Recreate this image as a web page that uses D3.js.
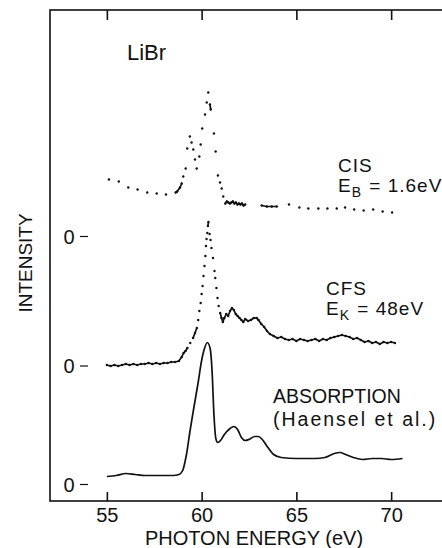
<!DOCTYPE html>
<meta charset="utf-8">
<style>
  body { margin: 0; background: #fff; }
  text { font-family: "Liberation Sans", Arial, sans-serif; fill: #111; }
</style>
<body>
<script src="https://d3js.org/d3.v7.min.js"></script>
<script>

// photon energy ticks (eV)
var xTicks = [55, 60, 65, 70];

// vertical offsets of the three spectra (zero levels, arbitrary units)
var offsets = [0, 118.5, 248];

// absorption (Haensel et al.) - solid line
var absE = [55.0, 55.5, 56.0, 56.5, 57.0, 57.5, 58.0, 58.5, 58.8, 59.0, 59.2, 59.4, 59.6, 59.8, 60.0, 60.15, 60.3, 60.45, 60.55, 60.65, 60.75, 60.85, 61.0, 61.2, 61.5, 61.7, 61.9, 62.1, 62.3, 62.5, 62.8, 63.0, 63.2, 63.5, 63.8, 64.2, 65.0, 65.5, 66.0, 66.5, 67.0, 67.3, 67.6, 68.0, 68.5, 69.0, 69.5, 70.0, 70.6];
var absI = [8, 9, 11, 10, 9, 9, 9, 9, 10, 14, 30, 55, 78, 100, 124, 136, 142, 136, 114, 70, 46, 42, 44, 50, 56, 58, 55, 47, 44, 45, 48, 48, 45, 37, 30, 27, 26, 26, 26, 27, 31, 32, 30, 27, 25, 26, 26, 25, 26];

// CFS, E_K = 48 eV - measured points
var cfsE = [55.0, 55.2, 55.4, 55.6, 55.8, 56.0, 56.2, 56.4, 56.6, 56.8, 57.0, 57.2, 57.4, 57.6, 57.8, 58.0, 58.2, 58.4, 58.6, 58.8, 58.95, 59.05, 59.15, 59.25, 59.4, 59.55, 59.65, 59.75, 59.82, 59.88, 59.95, 60.0, 60.05, 60.1, 60.15, 60.2, 60.23, 60.26, 60.3, 60.33, 60.36, 60.42, 60.47, 60.52, 60.6, 60.68, 60.72, 60.78, 60.84, 60.9, 60.98, 61.05, 61.12, 61.2, 61.3, 61.4, 61.5, 61.6, 61.7, 61.8, 61.9, 62.0, 62.1, 62.2, 62.3, 62.45, 62.6, 62.75, 62.9, 63.0, 63.15, 63.3, 63.45, 63.6, 63.8, 64.0, 64.2, 64.4, 64.6, 64.8, 65.0, 65.2, 65.4, 65.6, 65.8, 66.0, 66.2, 66.4, 66.6, 66.8, 67.0, 67.2, 67.4, 67.6, 67.8, 68.0, 68.2, 68.4, 68.6, 68.8, 69.0, 69.2, 69.4, 69.6, 69.8, 70.0, 70.2];
var cfsI = [1, 0, 1, 0, 1, 2, 1, 2, 1, 2, 2, 3, 2, 3, 2, 3, 3, 4, 4, 5, 9, 13, 15, 18, 23, 28, 33, 38, 46, 55, 63, 72, 80, 90, 100, 110, 120, 127, 133, 140, 144, 132, 126, 118, 108, 95, 88, 78, 68, 60, 53, 48, 44, 48, 52, 50, 55, 58, 56, 52, 50, 48, 46, 44, 47, 45, 46, 48, 48, 46, 42, 39, 35, 32, 30, 28, 29, 27, 26, 27, 25, 27, 26, 25, 26, 27, 25, 27, 26, 28, 29, 30, 31, 30, 29, 27, 28, 26, 24, 25, 23, 24, 22, 24, 23, 24, 23];

// CIS, E_B = 1.6 eV - measured points
var cisE = [55.11, 55.63, 56.13, 56.62, 57.13, 57.63, 58.12, 58.63, 58.71, 58.86, 58.95, 59.03, 59.16, 59.24, 59.38, 59.47, 59.56, 59.65, 59.74, 59.88, 59.95, 60.03, 60.18, 60.27, 60.35, 60.44, 60.48, 60.65, 60.74, 60.86, 60.97, 61.06, 61.14, 61.25, 61.33, 61.41, 61.49, 61.57, 61.65, 61.73, 61.81, 61.89, 61.97, 62.05, 62.13, 62.21, 62.3, 63.17, 63.44, 63.7, 63.96, 64.61, 65.16, 65.63, 66.16, 66.64, 67.13, 67.57, 68.05, 68.55, 69.05, 69.55, 70.05];
var cisI = [57, 55, 49, 47, 44, 43, 42, 44, 45, 49, 53, 60, 68, 88, 100, 94, 87, 77, 68, 80, 92, 108, 122, 134, 144, 132, 127, 103, 85, 61, 54, 48, 40, 33, 35, 34, 33, 34, 35, 33, 34, 32, 33, 32, 33, 31, 32, 31, 30, 30, 30, 32, 29, 28, 28, 28, 28, 29, 27, 26, 27, 25, 24];

var W = 442, H = 548;
var frame = { left: 50, top: 10, right: 448, bottom: 501 };

var svg = d3.select("body").append("svg")
  .attr("width", W)
  .attr("height", H);

var x = d3.scaleLinear().domain([52, 73]).range([frame.left, frame.right]);
var y = d3.scaleLinear().domain([-16.5, 474.5]).range([frame.bottom, frame.top]);

// frame
svg.append("rect")
  .attr("x", frame.left).attr("y", frame.top)
  .attr("width", frame.right - frame.left)
  .attr("height", frame.bottom - frame.top)
  .attr("fill", "none")
  .attr("stroke", "#111")
  .attr("stroke-width", 1.6);

// bottom axis, ticks pointing in
var xAxis = svg.append("g")
  .attr("transform", "translate(0," + frame.bottom + ")")
  .call(d3.axisBottom(x).tickValues(xTicks).tickSizeInner(-9).tickSizeOuter(0).tickPadding(20));
xAxis.select(".domain").remove();
xAxis.selectAll("line").attr("stroke", "#111").attr("stroke-width", 1.6);
xAxis.selectAll("text")
  .attr("dy", 0)
  .attr("y", 21)
  .style("font-size", "20px")
  .style("font-family", "'Liberation Sans', Arial, sans-serif")
  .attr("fill", "#111");

// top axis ticks
var xTop = svg.append("g")
  .attr("transform", "translate(0," + frame.top + ")")
  .call(d3.axisTop(x).tickValues(xTicks).tickSizeInner(-10).tickSizeOuter(0).tickFormat(""));
xTop.select(".domain").remove();
xTop.selectAll("line").attr("stroke", "#111").attr("stroke-width", 1.6);

// axis titles
svg.append("text")
  .attr("x", 254).attr("y", 545)
  .attr("text-anchor", "middle")
  .style("font-size", "20px")
  .text("PHOTON ENERGY (eV)");

svg.append("text")
  .attr("transform", "translate(32,263) rotate(-90)")
  .attr("text-anchor", "middle")
  .style("font-size", "19px")
  .text("INTENSITY");

// zero marks for each spectrum
var zeros = svg.append("g");
zeros.selectAll("text").data(offsets).enter().append("text")
  .attr("x", 69).attr("y", function (d) { return y(d) + 7; })
  .attr("text-anchor", "middle")
  .style("font-size", "20px")
  .text("0");
zeros.selectAll("line").data(offsets).enter().append("line")
  .attr("x1", 80).attr("x2", 88)
  .attr("y1", function (d) { return y(d); })
  .attr("y2", function (d) { return y(d); })
  .attr("stroke", "#111").attr("stroke-width", 1.2);

// absorption curve
var absData = absE.map(function (e, i) { return [e, absI[i] + offsets[0]]; });
svg.append("path")
  .datum(absData)
  .attr("fill", "none")
  .attr("stroke", "#111")
  .attr("stroke-width", 1.7)
  .attr("d", d3.line()
    .x(function (d) { return x(d[0]); })
    .y(function (d) { return y(d[1]); })
    .curve(d3.curveMonotoneX));

// measured points: dots, joined where neighbours sit close together
function drawScan(es, is, off) {
  var pts = es.map(function (e, i) { return [x(e), y(is[i] + off)]; });
  var g = svg.append("g");
  var segs = [];
  for (var i = 1; i < pts.length; i++) {
    var dx = pts[i][0] - pts[i - 1][0], dy = pts[i][1] - pts[i - 1][1];
    if (Math.sqrt(dx * dx + dy * dy) < 5.5) segs.push([pts[i - 1], pts[i]]);
  }
  g.selectAll("line").data(segs).enter().append("line")
    .attr("x1", function (d) { return d[0][0]; })
    .attr("y1", function (d) { return d[0][1]; })
    .attr("x2", function (d) { return d[1][0]; })
    .attr("y2", function (d) { return d[1][1]; })
    .attr("stroke", "#111")
    .attr("stroke-width", 1.7)
    .attr("stroke-linecap", "round");
  g.selectAll("circle").data(pts).enter().append("circle")
    .attr("cx", function (d) { return d[0]; })
    .attr("cy", function (d) { return d[1]; })
    .attr("r", 1.2)
    .attr("fill", "#111");
}
drawScan(cfsE, cfsI, offsets[1]);
drawScan(cisE, cisI, offsets[2]);

// labels
svg.append("text").attr("x", 127).attr("y", 60)
  .style("font-size", "22px").text("LiBr");

function label(x0, y0, title, sub, rest) {
  svg.append("text").attr("x", x0).attr("y", y0)
    .style("font-size", "19px").style("letter-spacing", "1px").text(title);
  var t = svg.append("text").attr("x", x0).attr("y", y0 + 20)
    .style("font-size", "19px").style("letter-spacing", "1px");
  t.append("tspan").text("E");
  t.append("tspan").attr("dy", 5).style("font-size", "14px").text(sub);
  t.append("tspan").attr("dy", -5).attr("dx", 1).text(rest);
}
label(338, 172, "CIS", "B", " = 1.6eV");
label(326, 295, "CFS", "K", " = 48eV");

svg.append("text").attr("x", 273).attr("y", 403)
  .style("font-size", "19.5px").text("ABSORPTION");
svg.append("text").attr("x", 273).attr("y", 426)
  .style("font-size", "19.5px").style("letter-spacing", "2px").text("(Haensel et al.)");

</script>
</body>
